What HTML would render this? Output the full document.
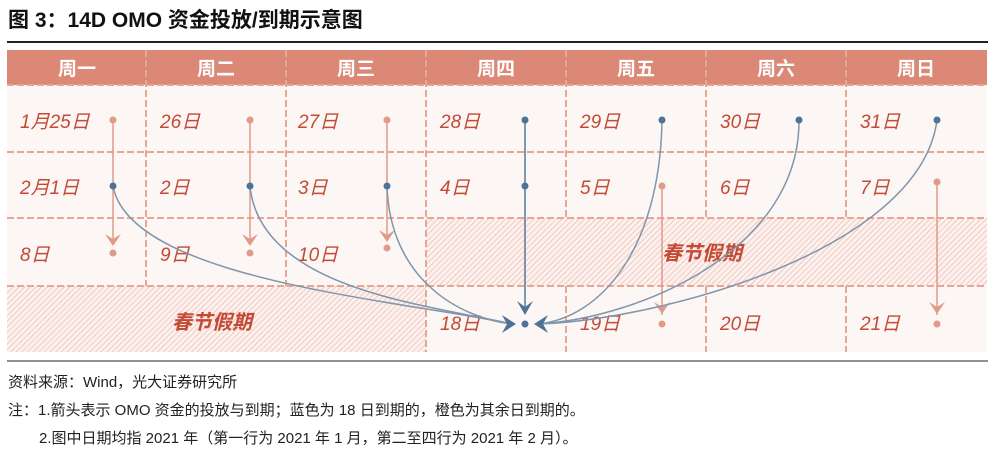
<!DOCTYPE html>
<html><head><meta charset="utf-8"><style>
body{margin:0;width:999px;height:452px;background:#fff;overflow:hidden;font-family:"Liberation Sans","Noto Sans CJK SC",sans-serif;}
.t{position:absolute;left:8px;top:4px;font-size:21px;font-weight:bold;color:#111;}
.f{position:absolute;font-size:15px;color:#222;white-space:nowrap;}
</style></head><body>
<div class="t">图 3：14D OMO 资金投放/到期示意图</div>
<svg width="999" height="452" style="position:absolute;left:0;top:0">
<defs>
<pattern id="h" width="4" height="4" patternUnits="userSpaceOnUse" patternTransform="rotate(45)">
<rect width="4" height="4" fill="#fcf1ee"/><line x1="0" y1="0" x2="0" y2="4" stroke="#eab1a3" stroke-width="1.2"/></pattern>
</defs>
<line x1="7" y1="42" x2="988" y2="42" stroke="#222" stroke-width="2"/>
<rect x="7" y="50" width="980" height="302" fill="#fcf6f4"/>
<rect x="7" y="50" width="980" height="35" fill="#dc8876"/>
<rect x="426" y="218" width="561" height="68" fill="url(#h)"/>
<rect x="7" y="286" width="419" height="66" fill="url(#h)"/>
<g stroke="#e6a797" stroke-width="2" stroke-dasharray="7,3">
<line x1="7" y1="85" x2="987" y2="85"/><line x1="7" y1="152" x2="987" y2="152"/>
<line x1="7" y1="218" x2="987" y2="218"/><line x1="7" y1="286" x2="987" y2="286"/>
<line x1="146" y1="50" x2="146" y2="286"/><line x1="286" y1="50" x2="286" y2="286"/>
<line x1="426" y1="50" x2="426" y2="352"/>
<line x1="566" y1="50" x2="566" y2="218"/><line x1="706" y1="50" x2="706" y2="218"/><line x1="846" y1="50" x2="846" y2="218"/>
<line x1="566" y1="286" x2="566" y2="352"/><line x1="706" y1="286" x2="706" y2="352"/><line x1="846" y1="286" x2="846" y2="352"/>
</g>
<g fill="#fff" font-size="19" font-weight="bold" text-anchor="middle">
<text x="77" y="75">周一</text><text x="216" y="75">周二</text><text x="356" y="75">周三</text><text x="496" y="75">周四</text><text x="636" y="75">周五</text><text x="776" y="75">周六</text><text x="916" y="75">周日</text></g>
<g fill="#c44a36" font-size="19" font-style="italic">
<text x="20" y="128">1月25日</text><text x="160" y="128">26日</text><text x="298" y="128">27日</text><text x="440" y="128">28日</text><text x="580" y="128">29日</text><text x="720" y="128">30日</text><text x="860" y="128">31日</text>
<text x="20" y="194">2月1日</text><text x="160" y="194">2日</text><text x="298" y="194">3日</text><text x="440" y="194">4日</text><text x="580" y="194">5日</text><text x="720" y="194">6日</text><text x="860" y="194">7日</text>
<text x="20" y="261">8日</text><text x="160" y="261">9日</text><text x="298" y="261">10日</text>
<text x="440" y="330">18日</text><text x="580" y="330">19日</text><text x="720" y="330">20日</text><text x="860" y="330">21日</text>
<text x="662" y="260" font-size="20" font-weight="bold">春节假期</text><text x="172" y="329" font-size="20" font-weight="bold">春节假期</text></g>
<g stroke="#e09a88" stroke-width="1.5" fill="none">
<line x1="113" y1="120" x2="113" y2="244"/><line x1="250" y1="120" x2="250" y2="244"/><line x1="387" y1="120" x2="387" y2="240"/>
<line x1="662" y1="186" x2="662" y2="315"/><line x1="937" y1="182" x2="937" y2="315"/></g>
<g fill="#e09a88">
<path d="M105,234 L113,246 L121,234 L113,239Z"/><path d="M242,234 L250,246 L258,234 L250,239Z"/><path d="M379,230 L387,242 L395,230 L387,235Z"/>
<path d="M654,302 L662,314 L670,302 L662,307Z"/><path d="M929,302 L937,314 L945,302 L937,307Z"/>
<circle cx="113" cy="120" r="3.5"/><circle cx="250" cy="120" r="3.5"/><circle cx="387" cy="120" r="3.5"/>
<circle cx="113" cy="253" r="3.5"/><circle cx="250" cy="253" r="3.5"/><circle cx="387" cy="248" r="3.5"/>
<circle cx="662" cy="186" r="3.5"/><circle cx="937" cy="182" r="3.5"/><circle cx="662" cy="324" r="3.5"/><circle cx="937" cy="324" r="3.5"/></g>
<g stroke="#7f96ad" stroke-width="1.5" fill="none">
<path d="M113,186 C130,280 400,300 512,324"/>
<path d="M250,186 C260,290 430,305 512,324"/>
<path d="M387,186 C390,280 460,318 512,324"/>
<path d="M525,120 L525,312" stroke="#557a9c"/>
<path d="M662,120 C660,250 600,318 538,324"/>
<path d="M799,120 C800,250 640,318 538,324"/>
<path d="M937,120 C920,250 660,320 538,324"/></g>
<g fill="#4f7396">
<circle cx="525" cy="120" r="3.5"/><circle cx="662" cy="120" r="3.5"/><circle cx="799" cy="120" r="3.5"/><circle cx="937" cy="120" r="3.5"/>
<circle cx="113" cy="186" r="3.5"/><circle cx="250" cy="186" r="3.5"/><circle cx="387" cy="186" r="3.5"/><circle cx="525" cy="186" r="3.5"/>
<circle cx="525" cy="324" r="3.5"/>
<path d="M517,301 L525,315 L533,301 L525,307Z"/>
<path d="M502,315 L516,324 L502,333 L507,324Z"/>
<path d="M548,315 L534,324 L548,333 L543,324Z"/></g>
<line x1="7" y1="361" x2="988" y2="361" stroke="#222" stroke-width="1"/>
</svg>
<div class="f" style="left:8px;top:371px">资料来源：Wind，光大证券研究所</div>
<div class="f" style="left:8px;top:399px">注：1.箭头表示 OMO 资金的投放与到期；蓝色为 18 日到期的，橙色为其余日到期的。</div>
<div class="f" style="left:39px;top:427px">2.图中日期均指 2021 年（第一行为 2021 年 1 月，第二至四行为 2021 年 2 月）。</div>
</body></html>
